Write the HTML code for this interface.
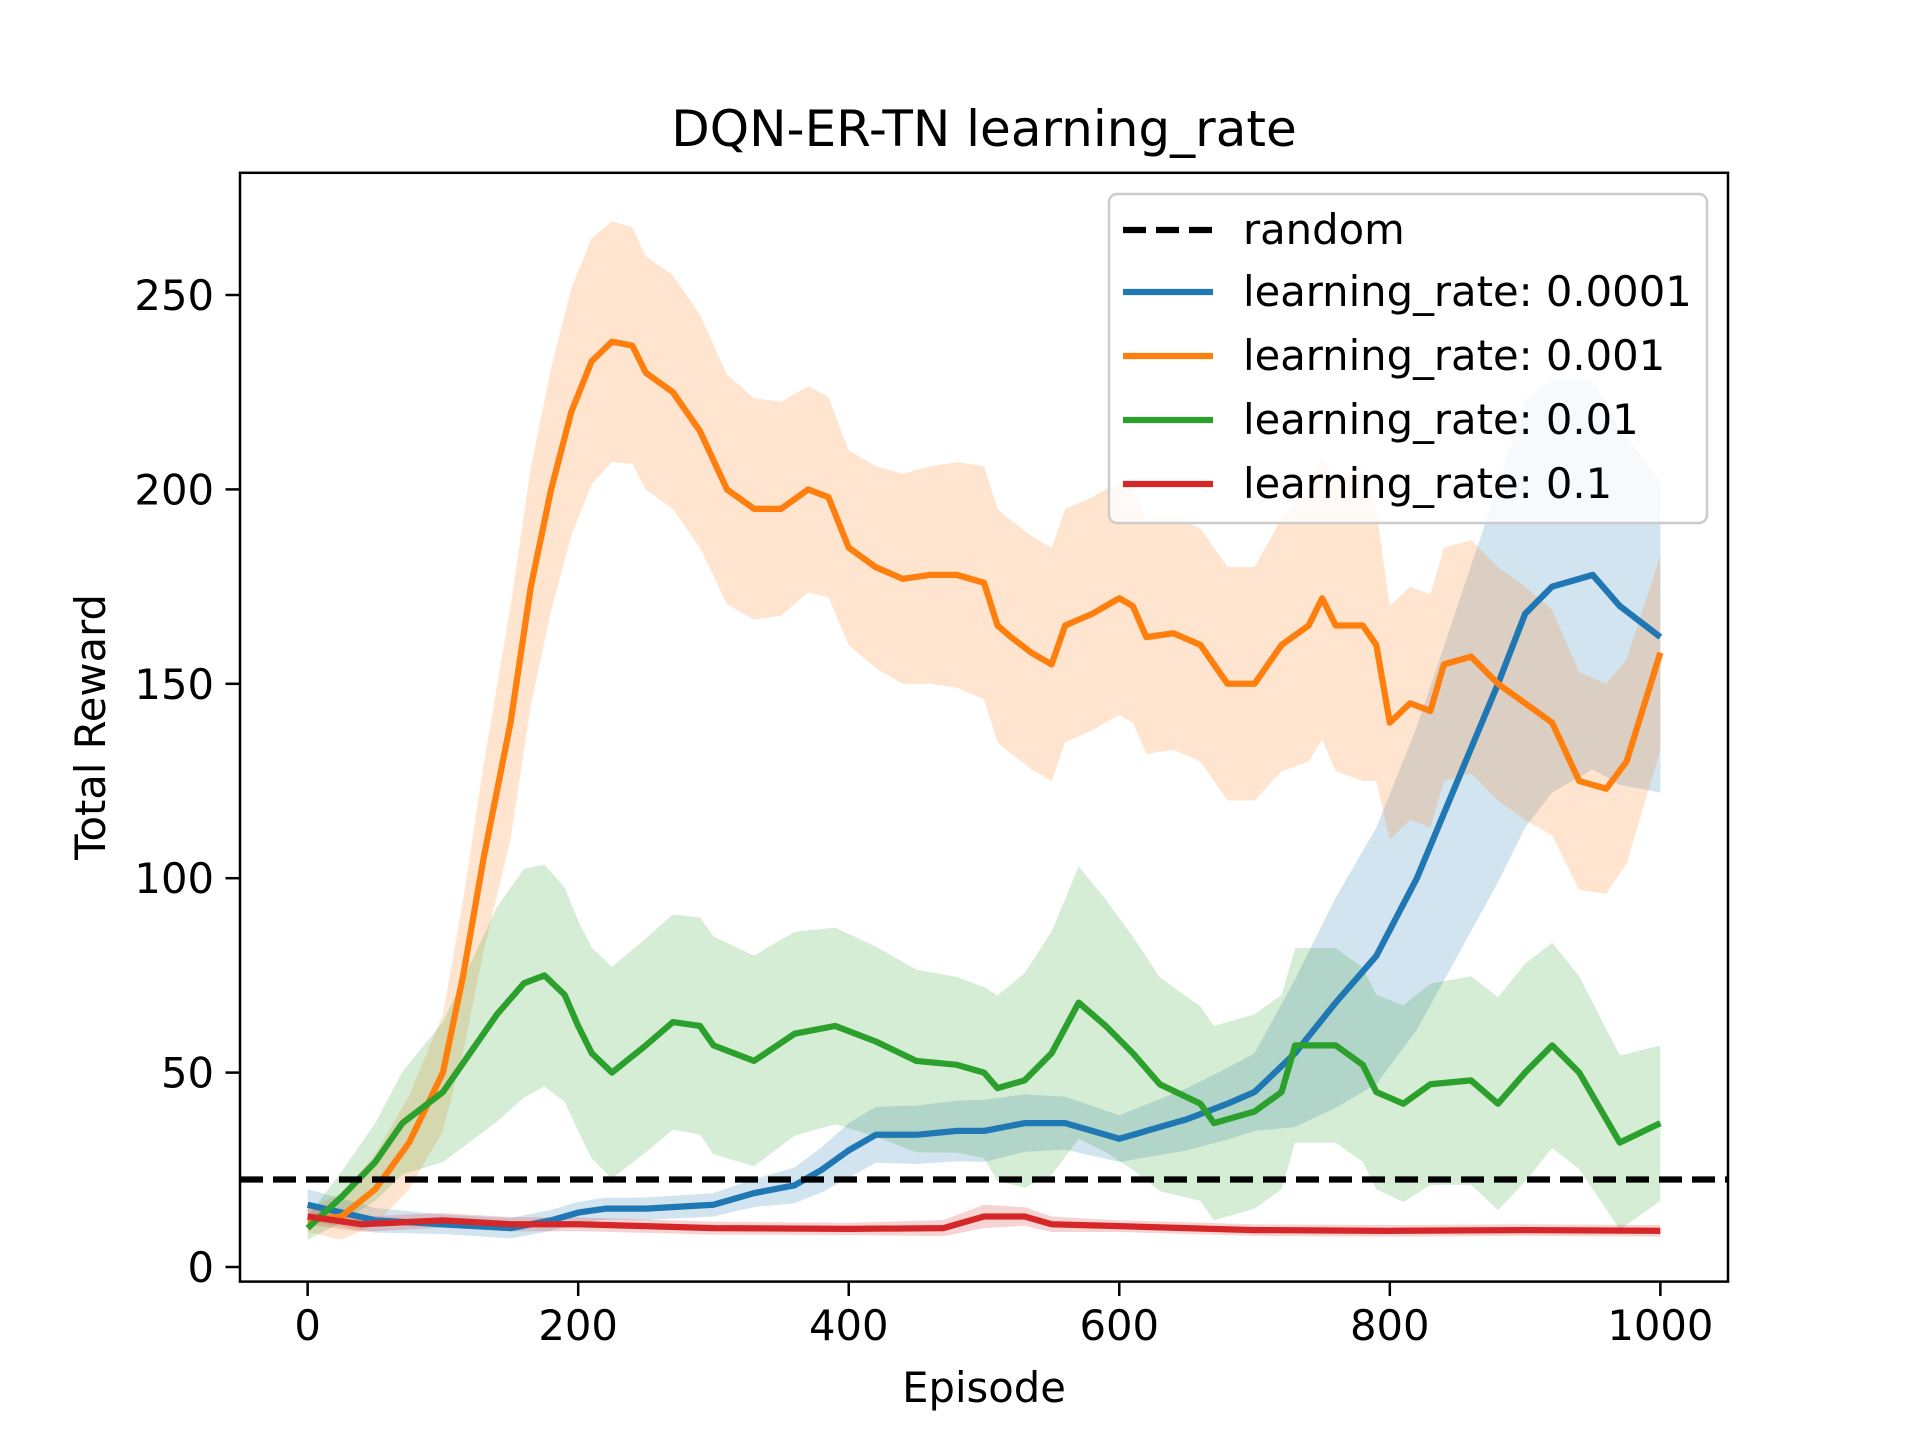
<!DOCTYPE html>
<html><head><meta charset="utf-8"><style>
body{margin:0;background:#fff;}
svg{display:block;font-family:"DejaVu Sans","Liberation Sans",sans-serif;}
</style></head><body>
<svg id="chart" width="1920" height="1440" viewBox="0 0 1920 1440" xmlns="http://www.w3.org/2000/svg">
<rect width="1920" height="1440" fill="#fff"/>
<g id="bands"></g><g id="lines"></g>
<line id="randline" x1="240" x2="1728" stroke="#000" stroke-width="6.25" stroke-dasharray="23,10"/>
<rect x="240" y="172.8" width="1488" height="1108.8" fill="none" stroke="#000" stroke-width="2.5"/>
<g id="ticks"></g>
<text x="984" y="146" font-size="50" text-anchor="middle">DQN-ER-TN learning_rate</text>
<text x="984" y="1402" font-size="41.7" text-anchor="middle">Episode</text>
<text transform="translate(105,727) rotate(-90)" font-size="41.7" text-anchor="middle">Total Reward</text>
<g>
<rect x="1109" y="194" width="598" height="329" rx="8" fill="#fff" fill-opacity="0.8" stroke="#ccc" stroke-width="2.5"/>
<line x1="1123" x2="1213" y1="230" y2="230" stroke="#000" stroke-width="6.25" stroke-dasharray="23,10"/>
<text x="1243" y="244" font-size="41.7">random</text>
<line x1="1123" x2="1213" y1="292" y2="292" stroke="#1f77b4" stroke-width="6.25"/>
<text x="1243" y="306" font-size="41.7">learning_rate: 0.0001</text>
<line x1="1123" x2="1213" y1="356" y2="356" stroke="#ff7f0e" stroke-width="6.25"/>
<text x="1243" y="370" font-size="41.7">learning_rate: 0.001</text>
<line x1="1123" x2="1213" y1="420" y2="420" stroke="#2ca02c" stroke-width="6.25"/>
<text x="1243" y="434" font-size="41.7">learning_rate: 0.01</text>
<line x1="1123" x2="1213" y1="484" y2="484" stroke="#d62728" stroke-width="6.25"/>
<text x="1243" y="498" font-size="41.7">learning_rate: 0.1</text>
</g>
</svg>
<script>
const xTicks=[0,200,400,600,800,1000];
const yTicks=[0,50,100,150,200,250];
const randomLevel=22.5;
const blueX=[0,50,100,150,180,200,220,250,300,330,360,380,400,420,450,480,500,530,560,580,600,620,650,680,700,730,760,790,820,850,880,900,920,950,970,1000];
const blueY=[16,12,11,10,12,14,15,15,16,19,21,25,30,34,34,35,35,37,37,35,33,35,38,42,45,55,68,80,100,125,150,168,175,178,170,162];
const blueSX=[0,60,100,300,350,400,500,600,700,750,800,850,900,950,1000];
const blueS=[4,3,2.5,3,4,7,8,6,10,25,35,45,55,50,40];
const orangeX=[0,25,50,75,100,115,130,150,165,180,195,210,225,240,250,270,290,310,330,350,370,385,400,420,440,460,480,500,510,520,535,550,560,580,600,610,620,640,660,680,700,720,740,750,760,780,790,800,815,830,840,860,880,900,920,940,960,975,1000];
const orangeY=[12,13,20,32,50,75,105,140,175,200,220,233,238,237,230,225,215,200,195,195,200,198,185,180,177,178,178,176,165,162,158,155,165,168,172,170,162,163,160,150,150,160,165,172,165,165,160,140,145,143,155,157,150,145,140,125,123,130,158];
const orangeSX=[0,100,150,200,250,300,400,500,600,700,780,800,900,1000];
const orangeS=[3,15,30,32,30,30,25,30,30,30,40,30,30,25];
const greenX=[0,25,50,70,100,120,140,160,175,190,200,210,225,250,270,290,300,330,360,390,420,450,480,500,510,530,550,570,590,610,630,660,670,700,720,730,760,780,790,810,830,860,880,900,920,940,970,1000];
const greenY=[10,18,27,37,45,55,65,73,75,70,62,55,50,57,63,62,57,53,60,62,58,53,52,50,46,48,55,68,62,55,47,42,37,40,45,57,57,52,45,42,47,48,42,50,57,50,32,37];
const greenSX=[0,50,100,150,200,300,400,500,570,650,800,900,1000];
const greenS=[3,10,18,30,27,28,25,22,35,25,25,28,20];
const redX=[0,40,100,150,200,250,300,400,470,500,530,550,600,700,800,900,1000];
const redY=[13,11,12,11,11,10.5,10,9.8,10,13,13,11,10.5,9.5,9.3,9.5,9.3];
const redSX=[0,450,500,550,600,1000];
const redS=[2,1.5,3,2,1.5,1.5];

const X=v=>240+1488*(v+50)/1100;
const Y0=1267,PU=3.888;
const Y=v=>Y0-v*PU;
const NS='http://www.w3.org/2000/svg';
function interp(xs,ys,x){if(x<=xs[0])return ys[0];for(let i=1;i<xs.length;i++){if(x<=xs[i]){const t=(x-xs[i-1])/(xs[i]-xs[i-1]);return ys[i-1]+t*(ys[i]-ys[i-1]);}}return ys[ys.length-1];}
function mk(tag,attrs,parent){const e=document.createElementNS(NS,tag);for(const k in attrs)e.setAttribute(k,attrs[k]);parent.appendChild(e);return e;}
const bands=document.getElementById('bands'),lines=document.getElementById('lines'),ticks=document.getElementById('ticks');
const series=[
 {n:'blue',c:'#1f77b4',x:blueX,y:blueY,sx:blueSX,s:blueS},
 {n:'orange',c:'#ff7f0e',x:orangeX,y:orangeY,sx:orangeSX,s:orangeS},
 {n:'green',c:'#2ca02c',x:greenX,y:greenY,sx:greenSX,s:greenS},
 {n:'red',c:'#d62728',x:redX,y:redY,sx:redSX,s:redS}];
series.forEach(sr=>{
 const up=[],lo=[];
 sr.x.forEach((xv,i)=>{const s=interp(sr.sx,sr.s,xv);up.push(X(xv)+','+Y(sr.y[i]+s));lo.unshift(X(xv)+','+Y(sr.y[i]-s));});
 const b=mk('polygon',{points:up.concat(lo).join(' '),fill:sr.c,'fill-opacity':0.2},bands);
 
 
 const l=mk('polyline',{points:sr.x.map((xv,i)=>X(xv)+','+Y(sr.y[i])).join(' '),fill:'none',stroke:sr.c,'stroke-width':6.25,'stroke-linejoin':'round'},lines);
 
 
});
const rl=document.getElementById('randline');rl.setAttribute('y1',Y(randomLevel));rl.setAttribute('y2',Y(randomLevel));
xTicks.forEach(t=>{
 mk('line',{x1:X(t),x2:X(t),y1:1281.6,y2:1296,stroke:'#000','stroke-width':2.5},ticks);
 const tx=mk('text',{x:X(t),y:1340,'font-size':41.7,'text-anchor':'middle'},ticks);tx.textContent=t;
 
 
});
yTicks.forEach(t=>{
 mk('line',{x1:225.5,x2:240,y1:Y(t),y2:Y(t),stroke:'#000','stroke-width':2.5},ticks);
 const tx=mk('text',{x:214,y:Y(t)+15,'font-size':41.7,'text-anchor':'end'},ticks);tx.textContent=t;
 
 
});
</script>
</body></html>
